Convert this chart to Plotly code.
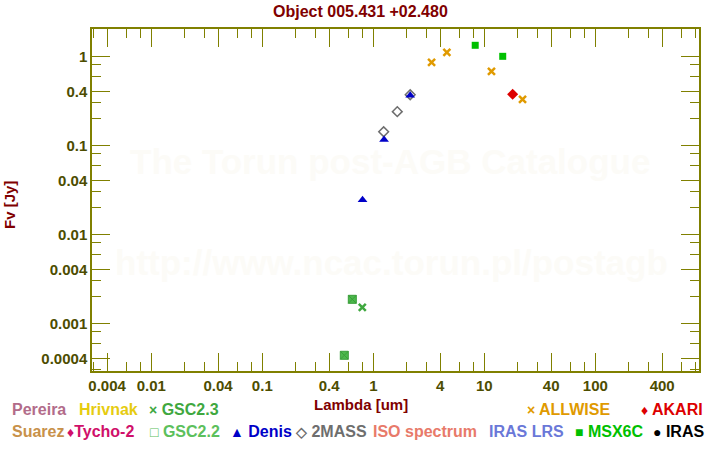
import plotly.graph_objects as go

# ---------------- data ----------------
allwise_lam = [3.35, 4.6, 11.6, 22.1]
allwise_flux = [0.857, 1.11, 0.678, 0.329]

msx_lam = [8.28, 14.65]
msx_flux = [1.33, 1.0]

akari_lam = [18.0]
akari_flux = [0.374]

denis_lam = [0.80, 1.25, 2.15]
denis_flux = [0.0243, 0.1156, 0.364]

twomass_lam = [1.24, 1.645, 2.15]
twomass_flux = [0.142, 0.239, 0.37]

gsc22_lam = [0.548, 0.647]
gsc22_flux = [0.000437, 0.00186]

gsc23_lam = [0.796]
gsc23_flux = [0.00151]

x_tickvals = [0.004, 0.01, 0.04, 0.1, 0.4, 1, 4, 10, 40, 100, 400]
x_ticktext = ["0.004", "0.01", "0.04", "0.1", "0.4", "1", "4", "10", "40", "100", "400"]
x_minor = [0.003, 0.006, 0.008, 0.02, 0.03, 0.06, 0.08, 0.2, 0.3, 0.6, 0.8,
           2, 3, 6, 8, 20, 30, 60, 80, 200, 300, 600, 800]
y_tickvals = [1, 0.4, 0.1, 0.04, 0.01, 0.004, 0.001, 0.0004]
y_ticktext = ["1", "0.4", "0.1", "0.04", "0.01", "0.004", "0.001", "0.0004"]
y_minor = [2, 0.8, 0.6, 0.3, 0.2, 0.08, 0.06, 0.03, 0.02, 0.008, 0.006, 0.003,
           0.002, 0.0008, 0.0006, 0.0003]

legend_row1 = [("Pereira", "#b26c8a", ""), ("Hrivnak", "#e6cc10", ""),
               ("GSC2.3", "#3fa83f", "×"), ("ALLWISE", "#e09a00", "×"),
               ("AKARI", "#dd0000", "♦")]
legend_row1_x = [10, 77, 147, 525, 639]
legend_row2 = [("Suarez", "#c8914a", ""), ("Tycho-2", "#d0106a", "♦"),
               ("GSC2.2", "#5cc05c", "□"), ("Denis", "#0000c8", "▲"),
               ("2MASS", "#6e6e6e", "◇"), ("ISO spectrum", "#e87a6a", ""),
               ("IRAS LRS", "#6a78d8", ""), ("MSX6C", "#00c000", "■"),
               ("IRAS", "#000000", "●")]
legend_row2_x = [10, 65, 148, 228, 293, 371, 487, 573, 651]

# ---------------- layout geometry ----------------
W, H = 720, 450
L, R, T, B = 92, 21, 29, 79
PW, PH = W - L - R, H - T - B


def px(x):
    return (x - L) / PW


def py(y):
    return (H - B - y) / PH


FONT = "Liberation Sans"
OLIVE = "#808000"
TICKC = "#4d4d00"
DARKRED = "#800000"

fig = go.Figure()

fig.add_trace(go.Scatter(x=gsc22_lam, y=gsc22_flux, mode="markers",
                         marker=dict(symbol="square-x", size=8, color="#4cb84c",
                                     line=dict(color="#3a9e3a", width=1))))
fig.add_trace(go.Scatter(x=gsc23_lam, y=gsc23_flux, mode="markers",
                         marker=dict(symbol="x-thin", size=7, color="#3fa83f",
                                     line=dict(color="#3fa83f", width=2.5))))
fig.add_trace(go.Scatter(x=twomass_lam, y=twomass_flux, mode="markers",
                         marker=dict(symbol="diamond-open", size=7.5, color="#6e6e6e",
                                     line=dict(color="#6e6e6e", width=1.5))))
fig.add_trace(go.Scatter(x=denis_lam, y=denis_flux, mode="markers",
                         marker=dict(symbol="triangle-up", size=8.5, color="#0000c8",
                                     line=dict(width=0))))
fig.add_trace(go.Scatter(x=allwise_lam, y=allwise_flux, mode="markers",
                         marker=dict(symbol="x-thin", size=7, color="#e09a00",
                                     line=dict(color="#e09a00", width=2.5))))
fig.add_trace(go.Scatter(x=msx_lam, y=msx_flux, mode="markers",
                         marker=dict(symbol="square", size=7, color="#00c000",
                                     line=dict(width=0))))
fig.add_trace(go.Scatter(x=akari_lam, y=akari_flux, mode="markers",
                         marker=dict(symbol="diamond", size=8.5, color="#dd0000",
                                     line=dict(width=0))))

axis_common = dict(
    showline=True, linecolor=OLIVE, linewidth=1.5, mirror="ticks",
    ticks="inside", ticklen=18, tickwidth=1.2, tickcolor=OLIVE,
    showgrid=False, zeroline=False,
    tickfont=dict(family=FONT, size=15, color=TICKC, weight="bold"),
)

fig.update_xaxes(type="log", range=[-2.534, 2.934], tickmode="array",
                 tickvals=x_tickvals, ticktext=x_ticktext,
                 minor=dict(tickmode="array", tickvals=x_minor, ticks="inside",
                            ticklen=9, tickwidth=1.2, tickcolor=OLIVE, showgrid=False),
                 **axis_common)
fig.update_yaxes(type="log", range=[-3.536, 0.307], tickmode="array",
                 tickvals=y_tickvals, ticktext=y_ticktext,
                 minor=dict(tickmode="array", tickvals=y_minor, ticks="inside",
                            ticklen=9, tickwidth=1.2, tickcolor=OLIVE, showgrid=False),
                 **axis_common)

ann = []
# watermark
ann.append(dict(text="The Torun post-AGB Catalogue", x=px(390), y=py(162),
                font=dict(family=FONT, size=35, color="#fcfbf7", weight="bold")))
ann.append(dict(text="http://www.ncac.torun.pl/postagb", x=px(391), y=py(262),
                font=dict(family=FONT, size=35, color="#fcfbf7", weight="bold")))
# title
ann.append(dict(text="Object 005.431 +02.480", x=px(360), y=py(11),
                font=dict(family=FONT, size=16, color=DARKRED, weight="bold")))
# axis titles
ann.append(dict(text="Fv [Jy]", x=px(9), y=py(205), textangle=-90,
                font=dict(family=FONT, size=15, color=DARKRED, weight="bold")))
ann.append(dict(text="Lambda [um]", x=px(361), y=py(404),
                font=dict(family=FONT, size=15, color=DARKRED, weight="bold")))


def legend_text(name, sym):
    if not sym:
        return name
    sep = "" if name == "Tycho-2" else " "
    return f'<span style="font-size:14px">{sym}</span>{sep}{name}'


for (name, col, sym), x0 in zip(legend_row1, legend_row1_x):
    ann.append(dict(text=legend_text(name, sym), x=px(x0), y=py(410), xanchor="left",
                    font=dict(family=FONT, size=16, color=col, weight="bold")))
for (name, col, sym), x0 in zip(legend_row2, legend_row2_x):
    ann.append(dict(text=legend_text(name, sym), x=px(x0), y=py(431), xanchor="left",
                    font=dict(family=FONT, size=16, color=col, weight="bold")))

for a in ann:
    a.setdefault("xanchor", "center")
    a.update(xref="paper", yref="paper", yanchor="middle", showarrow=False)

fig.update_layout(
    width=W, height=H, margin=dict(l=L, r=R, t=T, b=B),
    paper_bgcolor="white", plot_bgcolor="white", showlegend=False,
    annotations=ann,
)

fig.write_html("out.html")
